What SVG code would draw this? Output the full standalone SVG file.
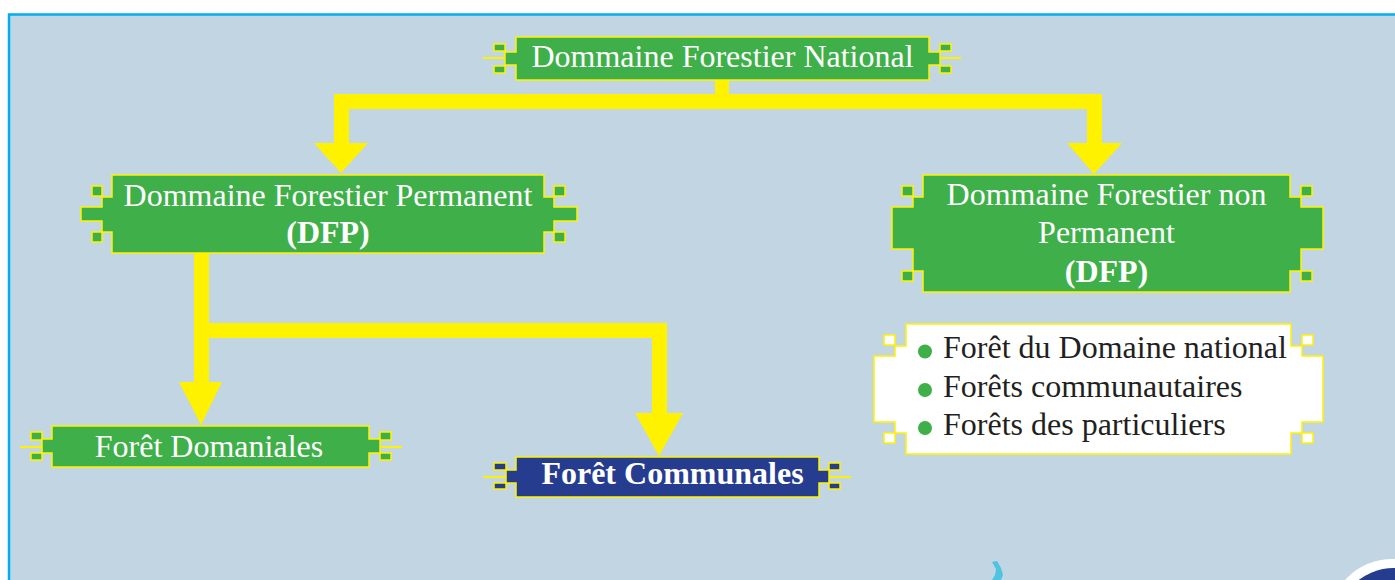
<svg xmlns="http://www.w3.org/2000/svg" width="1395" height="580" viewBox="0 0 1395 580">
<defs>
<style>
.bg{fill:#c1d5e2;stroke:#00aeef;stroke-width:2.5}
.g{fill:#3faf4a;stroke:#fff200;stroke-width:1.5}
.b{fill:#263c8e;stroke:#fff200;stroke-width:1.5}
.w{fill:#ffffff;stroke:#fff200;stroke-width:1.5}
.ln{stroke:#fff200;stroke-width:2;fill:none}
.arr{fill:#fff200}
.t{font-family:"Liberation Serif","Times New Roman",serif;font-size:32px;fill:#ffffff;text-anchor:middle}
.bold{font-weight:bold}
.lt{font-family:"Liberation Serif","Times New Roman",serif;font-size:32px;fill:#231f20}
.dot{fill:#3faf4a}
</style>
</defs>
<rect x="0" y="0" width="1395" height="580" fill="#ffffff"/>
<rect class="bg" x="9" y="14.5" width="1400" height="600"/>
<path d="M992,562 L997,561 L1001,568 L1003,575 L1001,580 L992,580 L995,575 L996,569 Z" fill="#4fc3e0"/>
<circle cx="1392" cy="622" r="63" fill="#ffffff"/>
<circle cx="1394" cy="626" r="58" fill="#263c8e"/>

<g id="connectors">
<rect class="arr" x="715" y="80" width="14" height="16"/>
<rect class="arr" x="334" y="94" width="768" height="15"/>
<rect class="arr" x="334" y="94" width="15" height="50"/>
<polygon class="arr" points="314,143 368,143 341,173"/>
<rect class="arr" x="1087" y="94" width="15" height="50"/>
<polygon class="arr" points="1067,143 1122,143 1094,174"/>
<rect class="arr" x="194" y="253" width="15" height="130"/>
<rect class="arr" x="194" y="323" width="473" height="15"/>
<polygon class="arr" points="179,382 222,382 201,425"/>
<rect class="arr" x="652" y="323" width="15" height="91"/>
<polygon class="arr" points="635,413 683,413 659,456"/>
</g>

<g id="node-national">
<line class="ln" x1="483" y1="58" x2="505" y2="58"/>
<line class="ln" x1="940" y1="58" x2="961" y2="58"/>
<rect class="g" x="494" y="44" width="11" height="7"/>
<rect class="g" x="494" y="66" width="11" height="7"/>
<rect class="g" x="940" y="44" width="11" height="7"/>
<rect class="g" x="940" y="66" width="11" height="7"/>
<path class="g" d="M516,37 H929 V52 H940 V65 H929 V80 H516 V65 H505 V52 H516 Z"/>
<text class="t" x="722.5" y="67">Dommaine Forestier National</text>
</g>

<g id="node-dfp">
<rect class="g" x="92" y="186" width="10" height="10"/>
<rect class="g" x="92" y="232" width="10" height="10"/>
<rect class="g" x="554" y="186" width="11" height="10"/>
<rect class="g" x="554" y="232" width="11" height="10"/>
<path class="g" d="M112,175 H544 V197 H554 V207 H577 V221 H554 V232 H544 V253 H112 V232 H102 V221 H81 V207 H102 V197 H112 Z"/>
<text class="t" x="328" y="206">Dommaine Forestier Permanent</text>
<text class="t bold" x="328" y="243">(DFP)</text>
</g>

<g id="node-dfnp">
<rect class="g" x="902" y="186" width="11" height="10"/>
<rect class="g" x="902" y="271" width="11" height="10"/>
<rect class="g" x="1301" y="186" width="11" height="10"/>
<rect class="g" x="1301" y="271" width="11" height="10"/>
<path class="g" d="M923,175 H1290 V197 H1301 V207 H1323 V249 H1301 V271 H1290 V292 H923 V271 H913 V249 H892 V207 H913 V197 H923 Z"/>
<text class="t" x="1106.5" y="205">Dommaine Forestier non</text>
<text class="t" x="1106.5" y="243">Permanent</text>
<text class="t bold" x="1106.5" y="282">(DFP)</text>
</g>

<g id="node-list">
<rect class="w" x="884" y="335" width="11" height="10"/>
<rect class="w" x="884" y="433" width="11" height="10"/>
<rect class="w" x="1302" y="335" width="11" height="10"/>
<rect class="w" x="1302" y="433" width="11" height="10"/>
<path class="w" d="M906,324 H1291 V346 H1302 V356 H1323 V422 H1302 V433 H1291 V454 H906 V433 H895 V422 H874 V356 H895 V346 H906 Z"/>
<circle class="dot" cx="925" cy="351.5" r="7"/>
<circle class="dot" cx="925" cy="390" r="7"/>
<circle class="dot" cx="925" cy="428" r="7"/>
<text class="lt" x="943" y="358">Forêt du Domaine national</text>
<text class="lt" x="943" y="397">Forêts communautaires</text>
<text class="lt" x="943" y="435">Forêts des particuliers</text>
</g>

<g id="node-domaniales">
<line class="ln" x1="20" y1="447" x2="42" y2="447"/>
<line class="ln" x1="380" y1="447" x2="402" y2="447"/>
<rect class="g" x="31" y="432" width="11" height="8"/>
<rect class="g" x="31" y="453" width="11" height="7"/>
<rect class="g" x="380" y="432" width="11" height="8"/>
<rect class="g" x="380" y="453" width="11" height="7"/>
<path class="g" d="M52,426 H369 V439 H380 V453 H369 V467 H52 V453 H42 V439 H52 Z"/>
<text class="t" x="209" y="457">Forêt Domaniales</text>
</g>

<g id="node-communales">
<line class="ln" x1="483" y1="477" x2="506" y2="477"/>
<line class="ln" x1="829" y1="477" x2="851" y2="477"/>
<rect class="b" x="494" y="463" width="12" height="7"/>
<rect class="b" x="494" y="483" width="12" height="6"/>
<rect class="b" x="829" y="463" width="11" height="7"/>
<rect class="b" x="829" y="483" width="11" height="6"/>
<path class="b" d="M516,457 H819 V470 H829 V483 H819 V497 H516 V483 H506 V470 H516 Z"/>
<text class="t bold" x="672.5" y="484">Forêt Communales</text>
</g>
</svg>
